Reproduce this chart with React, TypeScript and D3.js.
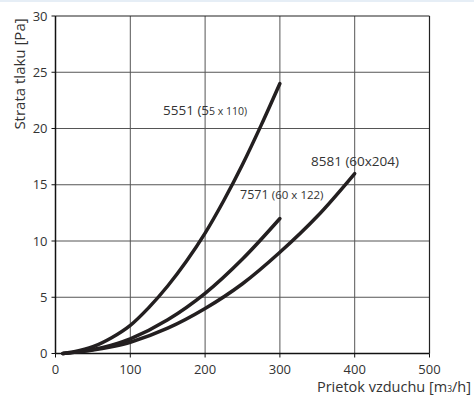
import React from "react";
import * as d3 from "d3";

const xTicks = [0, 100, 200, 300, 400, 500];
const yTicks = [0, 5, 10, 15, 20, 25, 30];

const flow5551 = [10, 25, 50, 75, 100, 125, 150, 175, 200, 225, 250, 275, 300];
const loss5551 = [0, 0.15, 0.6, 1.4, 2.5, 4.1, 6.0, 8.2, 10.7, 13.6, 16.8, 20.3, 24];

const flow7571 = [10, 25, 50, 75, 100, 150, 200, 250, 300];
const loss7571 = [0, 0.1, 0.35, 0.75, 1.3, 3.0, 5.35, 8.4, 12];

const flow8581 = [10, 25, 50, 75, 100, 150, 200, 250, 300, 350, 400];
const loss8581 = [0, 0.1, 0.3, 0.6, 1.0, 2.25, 4.0, 6.2, 9, 12.2, 16];

const W = 474, H = 398;
const L = 55.5, R = 429.5, T = 16, B = 353.5;

export default function App() {
  const x = d3.scaleLinear().domain([0, 500]).range([L, R]);
  const y = d3.scaleLinear().domain([0, 30]).range([B, T]);
  const line = d3.line<[number, number]>().x(d => x(d[0])).y(d => y(d[1])).curve(d3.curveCatmullRom);
  const series = [
    { f: flow5551, v: loss5551 },
    { f: flow7571, v: loss7571 },
    { f: flow8581, v: loss8581 },
  ];
  const font = "'Open Sans', 'Noto Sans', sans-serif";
  const txt = "#333";
  return (
    <svg width={W} height={H} style={{ position: "absolute", left: 0, top: 0, background: "#fff" }} fontFamily={font}>
      <rect x={0} y={0} width={W} height={2} fill="#e6eef6" />
      {xTicks.slice(1, -1).map(t => (
        <line key={"gx" + t} x1={x(t)} x2={x(t)} y1={T} y2={B} stroke="#555" strokeWidth={1} />
      ))}
      {yTicks.slice(1, -1).map(t => (
        <line key={"gy" + t} x1={L} x2={R} y1={y(t)} y2={y(t)} stroke="#555" strokeWidth={1} />
      ))}
      <line x1={L} x2={R} y1={T} y2={T} stroke="#222" strokeWidth={1.2} />
      <line x1={R} x2={R} y1={T} y2={B} stroke="#222" strokeWidth={1.2} />
      <line x1={L} x2={L} y1={T} y2={B} stroke="#111" strokeWidth={1.5} />
      <line x1={L} x2={R} y1={B} y2={B} stroke="#111" strokeWidth={1.5} />
      {xTicks.map(t => (
        <g key={"xt" + t}>
          <line x1={x(t)} x2={x(t)} y1={B} y2={B + 4} stroke="#111" strokeWidth={1} />
          <text x={x(t)} y={B + 20} textAnchor="middle" fontSize={13} fill={txt}>{t}</text>
        </g>
      ))}
      {yTicks.map(t => (
        <g key={"yt" + t}>
          <line x1={L - 4} x2={L} y1={y(t)} y2={y(t)} stroke="#111" strokeWidth={1} />
          <text x={L - 8} y={y(t) + 4.5} textAnchor="end" fontSize={13} fill={txt}>{t}</text>
        </g>
      ))}
      {series.map((s, i) => (
        <path key={i} d={line(s.f.map((f, j) => [f, s.v[j]] as [number, number])) || ""} fill="none" stroke="#231f20" strokeWidth={3.5} strokeLinecap="round" />
      ))}
      <text x={163} y={115} fontSize={13.5} fill={txt}>5551 (5<tspan fontSize={10.5}>5 x 110)</tspan></text>
      <text x={240} y={199} fontSize={12.5} fill={txt}>7571 <tspan fontSize={11.5}>(60 x 122)</tspan></text>
      <text x={311} y={166} fontSize={13.5} fill={txt}>8581 (60x204)</text>
      <text transform={`translate(25,${74}) rotate(-90)`} textAnchor="middle" fontSize={15} fill={txt}>Strata tlaku [Pa]</text>
      <text x={471} y={392} textAnchor="end" fontSize={14.5} fill={txt}>Prietok vzduchu [m<tspan fontSize={8.5}>3</tspan>/h]</text>
    </svg>
  );
}
